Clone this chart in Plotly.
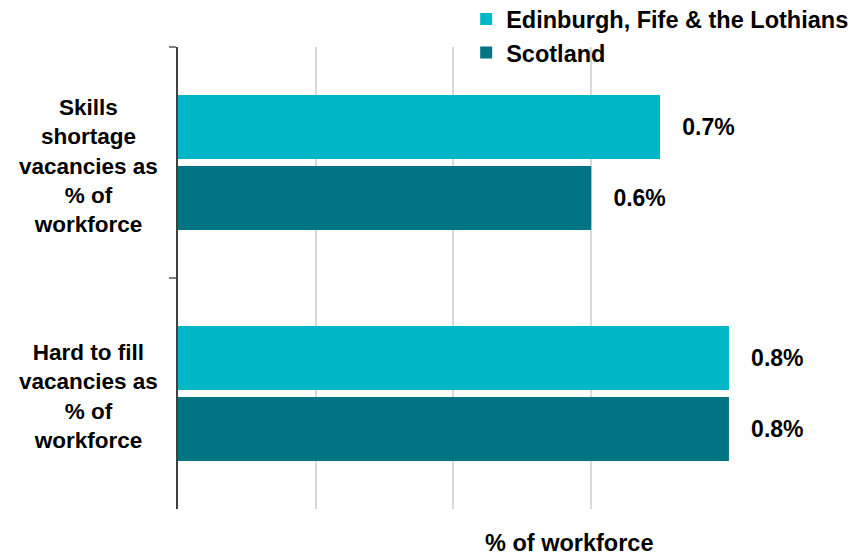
import plotly.graph_objects as go

categories = ["Skills shortage vacancies as % of workforce",
              "Hard to fill vacancies as % of workforce"]
category_labels = ["Skills<br>shortage<br>vacancies as<br>% of<br>workforce",
                   "Hard to fill<br>vacancies as<br>% of<br>workforce"]
series_names = ["Edinburgh, Fife & the Lothians", "Scotland"]
edinburgh = [0.7, 0.8]
scotland = [0.6, 0.8]
x_title = "% of workforce"

colors = ["#00B7C8", "#007482"]
FONT = "Liberation Sans, Arial, sans-serif"

fig = go.Figure()
for name, vals, col in zip(series_names, [edinburgh, scotland], colors):
    fig.add_trace(go.Bar(
        y=categories, x=vals, name=name, orientation="h",
        marker=dict(color=col, line=dict(width=0)),
        texttemplate="\u00a0\u00a0\u00a0%{x:.1f}%", textposition="outside",
        textfont=dict(size=23, color="#000000", family=FONT, weight="bold"),
        cliponaxis=False,
    ))

for cat, lab in zip(categories, category_labels):
    fig.add_annotation(x=-0.163, xref="paper", y=cat, yref="y", text=lab,
                       showarrow=False, xanchor="center", yanchor="middle", align="center",
                       yshift=-3,
                       font=dict(size=22.5, color="#000000", family=FONT, weight="bold"))

fig.add_annotation(x=0.709, xref="paper", y=-0.074, yref="paper", text=x_title,
                   showarrow=False, xanchor="center", yanchor="middle",
                   font=dict(size=23.5, color="#000000", family=FONT, weight="bold"))

fig.update_layout(
    width=862, height=557,
    margin=dict(l=178, r=133, t=47, b=48, autoexpand=False),
    paper_bgcolor="white", plot_bgcolor="white",
    barmode="group", bargap=0.385, bargroupgap=0.1,
    font=dict(family=FONT, color="#000000"),
    showlegend=True,
    legend=dict(x=0.523, y=1.108, xanchor="left", yanchor="top",
                font=dict(size=23.5, color="#000000", family=FONT, weight="bold"),
                bgcolor="rgba(0,0,0,0)", traceorder="normal", tracegroupgap=0),
    xaxis=dict(range=[0, 0.8001], dtick=0.2, showgrid=True, gridcolor="#D9D9D9", gridwidth=2,
               showticklabels=False, zeroline=False, showline=False, ticks=""),
    yaxis=dict(autorange="reversed", showticklabels=False, tickson="boundaries",
               ticks="outside", ticklen=7, tickcolor="#808080", tickwidth=1.5,
               showline=True, linecolor="#404040", linewidth=1.5, showgrid=False),
)

fig.write_html("out.html", config={"displayModeBar": False},
               post_script="document.body.style.margin='0';document.body.style.overflow='hidden';")
